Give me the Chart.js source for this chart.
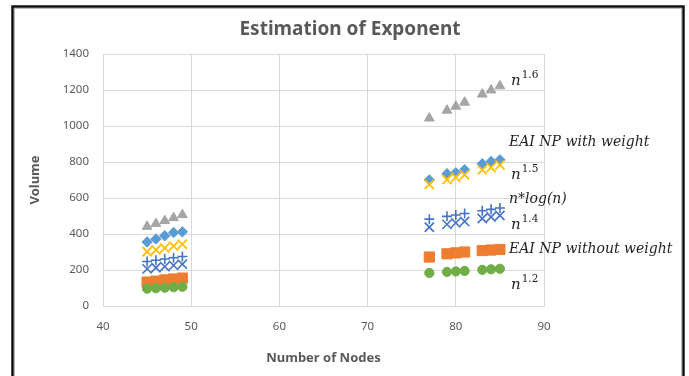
<!DOCTYPE html>
<html>
<head>
<meta charset="utf-8">
<script src="https://cdn.jsdelivr.net/npm/chart.js@4/dist/chart.umd.min.js"></script>
<style>
  html, body { margin: 0; padding: 0; background: #fff; }
  #wrap { width: 689px; height: 376px; position: relative; }
</style>
</head>
<body>
<div id="wrap"><canvas id="chart" width="689" height="376"></canvas></div>
<script>
// Graph sizes (number of nodes) for the two measured groups
const nodes = [45, 46, 47, 48, 49, 77, 79, 80, 81, 83, 84, 85];

// Measured volumes and reference growth curves
const pow16            = [441.7, 457.5, 473.5, 489.8, 506.2, 1043.2, 1086.9, 1109.0, 1131.3, 1176.3, 1199.1, 1222.0];
const eaiWithWeight    = [356, 372, 390, 408, 412, 700, 735, 740, 757, 790, 803, 812];
const pow15            = [301.9, 312.0, 322.2, 332.6, 343.0, 675.7, 702.2, 715.5, 729.0, 756.2, 769.9, 783.7];
const nLogN            = [247.1, 254.1, 261.1, 268.1, 275.1, 482.5, 498.0, 505.8, 513.5, 529.1, 537.0, 544.8];
const pow14            = [206.3, 212.7, 219.2, 225.8, 232.4, 437.6, 453.6, 461.7, 469.8, 486.1, 494.3, 502.6];
const eaiWithoutWeight = [133, 138, 145, 150, 155, 272, 290, 295, 300, 308, 311, 314];
const pow12            = [96.4, 98.9, 101.5, 104.1, 106.7, 183.6, 189.3, 192.2, 195.1, 200.9, 203.8, 206.7];

// Series names (a caret marks an exponent)
const seriesNames = ['n^1.6', 'EAI NP with weight', 'n^1.5', 'n*log(n)', 'n^1.4', 'EAI NP without weight', 'n^1.2'];

// Axis ranges and tick steps
const xRange = [40, 90];
const xStep = 10;
const yRange = [0, 1400];
const yStep = 200;

const titleText = 'Estimation of Exponent';
const xTitle = 'Number of Nodes';
const yTitle = 'Volume';

const toPoints = vals => vals.map((v, i) => ({ x: nodes[i], y: v }));

const seriesValues = [pow16, eaiWithWeight, pow15, nLogN, pow14, eaiWithoutWeight, pow12];
const seriesStyle = [
  { pointStyle: 'triangle', radius: 5.6, bg: '#A5A5A5', border: '#A5A5A5', bw: 1 },
  { pointStyle: 'rectRot',  radius: 5.2, bg: '#5B9BD5', border: '#5B9BD5', bw: 1 },
  { pointStyle: 'crossRot', radius: 6.5, bg: '#FFC000', border: '#FFC000', bw: 1.8 },
  { pointStyle: 'cross',    radius: 5,   bg: '#4472C4', border: '#4472C4', bw: 1.6 },
  { pointStyle: 'crossRot', radius: 6.5, bg: '#4472C4', border: '#4472C4', bw: 1.6 },
  { pointStyle: 'rect',     radius: 7.2, bg: '#ED7D31', border: '#ED7D31', bw: 1 },
  { pointStyle: 'circle',   radius: 4.6, bg: '#70AD47', border: '#70AD47', bw: 1 }
];

// Draw order: later datasets sit on top
const drawOrder = [6, 5, 4, 3, 2, 1, 0];

const datasets = seriesValues.map((vals, i) => ({
  label: seriesNames[i],
  data: toPoints(vals),
  showLine: false,
  pointStyle: seriesStyle[i].pointStyle,
  pointRadius: seriesStyle[i].radius,
  pointHoverRadius: seriesStyle[i].radius,
  backgroundColor: seriesStyle[i].bg,
  borderColor: seriesStyle[i].border,
  pointBorderWidth: seriesStyle[i].bw,
  order: drawOrder[i]
}));

// Series name placement at the right end of the plot (pixel baselines)
const nameBaselines = [85, 146, 179, 203, 229, 253, 289];

const frameTitleAndNames = {
  id: 'frameTitleAndNames',
  beforeDraw(chart) {
    const ctx = chart.ctx;
    ctx.save();
    ctx.fillStyle = '#ffffff';
    ctx.fillRect(0, 0, chart.width, chart.height);
    ctx.restore();
  },
  afterDraw(chart) {
    const ctx = chart.ctx;
    const area = chart.chartArea;
    ctx.save();
    // outer frame
    ctx.strokeStyle = '#bdbdbd';
    ctx.lineWidth = 1;
    ctx.strokeRect(14.5, 8.5, 667, 400);
    ctx.strokeStyle = '#111111';
    ctx.lineWidth = 2.5;
    ctx.strokeRect(12.5, 6.5, 671, 400);

    // chart title, centred on the frame
    ctx.fillStyle = '#595959';
    ctx.font = 'bold 19px "Noto Sans", sans-serif';
    ctx.textAlign = 'center';
    ctx.textBaseline = 'middle';
    ctx.fillText(titleText, 350, 30);

    // series names
    ctx.fillStyle = '#1f1f1f';
    ctx.textBaseline = 'alphabetic';
    ctx.textAlign = 'left';
    const x0 = area.right - 35;
    seriesNames.forEach((name, i) => {
      const y = nameBaselines[i];
      if (name.indexOf('^') >= 0) {
        const [base, exp] = name.split('^');
        ctx.font = 'italic 15px "DejaVu Serif"';
        ctx.fillText(base, x0 + 2, y);
        const w = ctx.measureText(base).width;
        ctx.font = '10.5px "DejaVu Serif"';
        ctx.fillText(exp, x0 + 3 + w, y - 7);
      } else {
        ctx.font = 'italic 14px "DejaVu Serif"';
        ctx.fillText(name, x0, y);
      }
    });
    ctx.restore();
  }
};

const tickFont = { family: '"Noto Sans", sans-serif', size: 11.5 };
const titleFont = { family: '"Noto Sans", sans-serif', size: 13, weight: 'bold' };
const plainNumber = v => String(v);

new Chart(document.getElementById('chart'), {
  type: 'scatter',
  data: { datasets },
  options: {
    responsive: false,
    animation: false,
    events: [],
    layout: { padding: { left: 13, right: 145, top: 54, bottom: 0 } },
    plugins: {
      legend: { display: false },
      tooltip: { enabled: false },
      title: { display: false }
    },
    scales: {
      x: {
        type: 'linear',
        min: xRange[0], max: xRange[1],
        afterFit(scale) { scale.height = 70; },
        ticks: { stepSize: xStep, color: '#595959', font: tickFont, padding: 14, callback: plainNumber },
        grid: { color: '#D9D9D9', drawTicks: false },
        border: { color: '#D9D9D9' },
        title: { display: true, text: xTitle, color: '#595959', font: titleFont, padding: { top: 0, bottom: 10.2 } }
      },
      y: {
        type: 'linear',
        min: yRange[0], max: yRange[1],
        afterFit(scale) { scale.width = 90; },
        ticks: { stepSize: yStep, color: '#595959', font: tickFont, padding: 14, callback: plainNumber },
        grid: { color: '#D9D9D9', drawTicks: false },
        border: { color: '#D9D9D9' },
        title: { display: true, text: yTitle, color: '#595959', font: titleFont, padding: { top: 14.2, bottom: 0 } }
      }
    }
  },
  plugins: [frameTitleAndNames]
});
</script>
</body>
</html>
